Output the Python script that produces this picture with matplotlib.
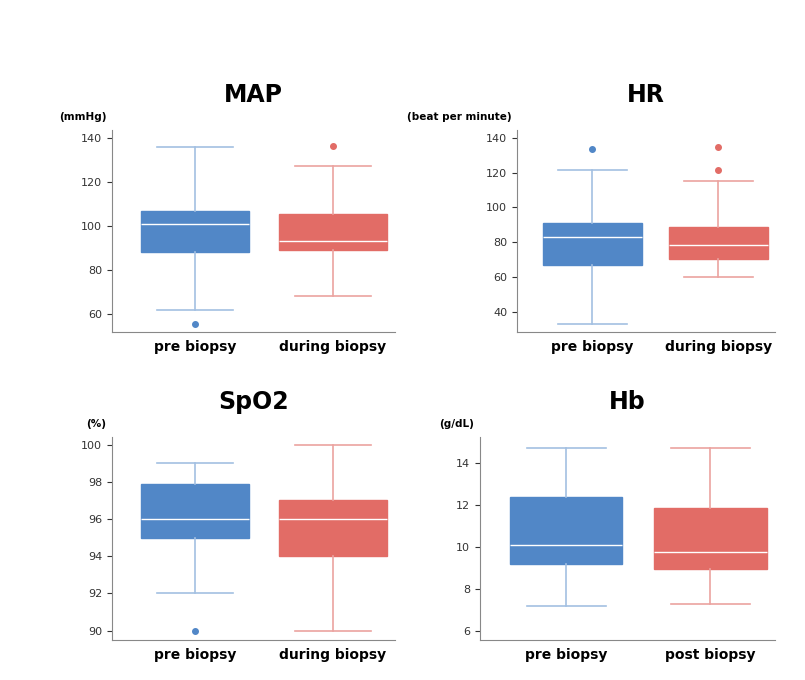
import matplotlib.pyplot as plt

# box stats: (whislo, q1, med, q3, whishi, outliers)
map_pre = (61.8, 88.2, 100.9, 106.8, 135.9, [55.5])
map_dur = (68.2, 89.0, 93.2, 105.5, 127.3, [136.4])
hr_pre = (33.1, 67.0, 83.1, 91.1, 121.6, [133.7])
hr_dur = (60.1, 70.5, 78.5, 88.9, 115.3, [134.8, 121.6])
spo2_pre = (92.0, 95.0, 96.0, 97.9, 99.0, [90.0])
spo2_dur = (90.0, 94.0, 96.0, 97.0, 100.0, [])
hb_pre = (7.2, 9.2, 10.1, 12.35, 14.7, [])
hb_post = (7.3, 8.95, 9.75, 11.85, 14.7, [])

blue, red = "#5187c7", "#e26c66"
blue_l, red_l = "#a3c0e2", "#eba3a0"

panels = [
    ("MAP", "(mmHg)", [map_pre, map_dur], ["pre biopsy", "during biopsy"],
     (51.8, 143.6), [60, 80, 100, 120, 140], [0.139, 0.512, 0.352, 0.297]),
    ("HR", "(beat per minute)", [hr_pre, hr_dur], ["pre biopsy", "during biopsy"],
     (28.5, 144.6), [40, 60, 80, 100, 120, 140], [0.642, 0.512, 0.321, 0.297]),
    ("SpO2", "(%)", [spo2_pre, spo2_dur], ["pre biopsy", "during biopsy"],
     (89.5, 100.4), [90, 92, 94, 96, 98, 100], [0.139, 0.059, 0.352, 0.298]),
    ("Hb", "(g/dL)", [hb_pre, hb_post], ["pre biopsy", "post biopsy"],
     (5.6, 15.2), [6, 8, 10, 12, 14], [0.596, 0.059, 0.367, 0.298]),
]

fig = plt.figure(figsize=(8.05, 6.8), dpi=100)

for title, unit, data, labels, ylim, ticks, pos in panels:
    ax = fig.add_axes(pos)
    for i, (s, c, cl) in enumerate(zip(data, [blue, red], [blue_l, red_l])):
        st = dict(whislo=s[0], q1=s[1], med=s[2], q3=s[3], whishi=s[4], fliers=s[5])
        ax.bxp([st], positions=[i + 1], widths=0.78, capwidths=0.55, patch_artist=True,
               boxprops=dict(facecolor=c, edgecolor=c),
               medianprops=dict(color="white", lw=1),
               whiskerprops=dict(color=cl, lw=1.2),
               capprops=dict(color=cl, lw=1.2),
               flierprops=dict(marker="o", markersize=4, markerfacecolor=c, markeredgecolor=c))
    ax.set_xlim(0.4, 2.45)
    ax.set_ylim(*ylim)
    ax.set_yticks(ticks)
    ax.set_xticks([1, 2])
    ax.set_xticklabels(labels, fontsize=10, fontweight="bold")
    ax.tick_params(axis="y", labelsize=8, colors="#333333")
    ax.tick_params(axis="x", length=0, pad=6)
    for sp in ["top", "right"]:
        ax.spines[sp].set_visible(False)
    for sp in ["left", "bottom"]:
        ax.spines[sp].set_color("#888888")
    ax.set_title(title, fontsize=17, fontweight="bold", pad=20)
    ax.text(-0.02, 1.04, unit, transform=ax.transAxes, ha="right", va="bottom",
            fontsize=7.5, fontweight="bold")

fig.savefig("out.png", dpi=100)
